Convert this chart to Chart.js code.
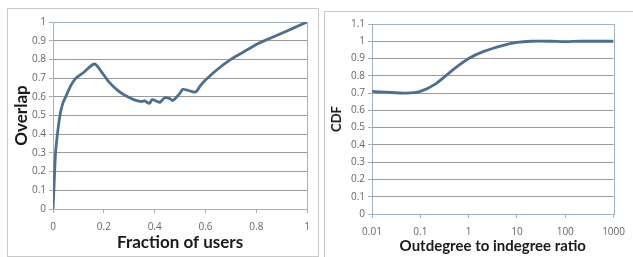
<!DOCTYPE html>
<html>
<head>
<meta charset="utf-8">
<script src="https://cdn.jsdelivr.net/npm/chart.js@4/dist/chart.umd.min.js"></script>
<style>
  body { margin: 0; background: #fff; width: 633px; height: 257px; overflow: hidden; position: relative; }
  canvas { position: absolute; top: 0; }
  .panel { position: absolute; border: 1px solid #c8c8c8; pointer-events: none; }
</style>
</head>
<body>
<canvas id="overlapChart" width="318" height="257" style="left:0"></canvas>
<canvas id="cdfChart" width="315" height="257" style="left:318px"></canvas>
<div class="panel" style="left:7px;top:8px;width:310px;height:247px"></div>
<div class="panel" style="left:324px;top:11px;width:320px;height:260px"></div>
<script>
// left chart: overlap vs fraction of users
const fractionUsers = [0, 0.005, 0.01, 0.02, 0.03, 0.04, 0.05, 0.07, 0.09, 0.1, 0.12, 0.14, 0.16, 0.17,
  0.19, 0.22, 0.25, 0.28, 0.31, 0.33, 0.35, 0.36, 0.37, 0.38, 0.39, 0.41, 0.42, 0.44, 0.46, 0.47,
  0.48, 0.5, 0.51, 0.53, 0.56, 0.58, 0.6, 0.65, 0.7, 0.75, 0.8, 0.85, 0.9, 0.95, 1];
const overlap = [0, 0.15, 0.3, 0.43, 0.52, 0.57, 0.6, 0.66, 0.7, 0.71, 0.73, 0.755, 0.775, 0.77,
  0.735, 0.68, 0.64, 0.61, 0.59, 0.58, 0.575, 0.58, 0.57, 0.565, 0.585, 0.575, 0.57, 0.595, 0.59, 0.58,
  0.59, 0.62, 0.64, 0.635, 0.625, 0.66, 0.69, 0.75, 0.8, 0.84, 0.88, 0.91, 0.94, 0.97, 1];
const overlapXTicks = [0, 0.2, 0.4, 0.6, 0.8, 1];

// right chart: CDF of outdegree/indegree ratio
const degreeRatio = [0.01, 0.02, 0.05, 0.1, 0.2, 0.5, 1, 2, 5, 10, 20, 50, 100, 200, 500, 1000];
const cdf = [0.71, 0.705, 0.7, 0.71, 0.75, 0.84, 0.9, 0.94, 0.975, 0.993, 1.0, 1.0, 0.998, 1.0, 1.0, 1.0];
const ratioXTicks = [0.01, 0.1, 1, 10, 100, 1000];

const lineColor = "#4b6f93";
const tickColor = "#666";
const gridColor = "#9a9a9a";

// outline around the plot area
const boxPlugin = {
  id: "plotBox",
  beforeDatasetsDraw(chart) {
    const a = chart.chartArea;
    const ctx = chart.ctx;
    ctx.save();
    ctx.strokeStyle = "#a3b0bd";
    ctx.lineWidth = 1;
    ctx.strokeRect(Math.round(a.left) + 0.5, Math.round(a.top) + 0.5,
      Math.round(a.right - a.left), Math.round(a.bottom - a.top));
    ctx.restore();
  },
};

function fmt(v) {
  return String(+Number(v).toFixed(2));
}

function makeChart(id, cfg) {
  return new Chart(document.getElementById(id), {
    type: "line",
    data: {
      datasets: [{
        data: cfg.xs.map((x, i) => ({ x: x, y: cfg.ys[i] })),
        borderColor: lineColor,
        borderWidth: 2.8,
        pointRadius: 0,
        fill: false,
        tension: 0.25,
      }],
    },
    options: {
      responsive: false,
      animation: false,
      devicePixelRatio: 1,
      layout: { padding: { top: cfg.top, right: cfg.right, left: 0, bottom: 0 } },
      plugins: { legend: { display: false }, tooltip: { enabled: false } },
      scales: {
        x: {
          type: cfg.xType,
          min: cfg.xTicks[0],
          max: cfg.xTicks[cfg.xTicks.length - 1],
          afterBuildTicks: (s) => { s.ticks = cfg.xTicks.map((v) => ({ value: v })); },
          afterFit: (s) => { s.height = cfg.xAxisHeight; },
          border: { display: true, color: "#a3b0bd" },
          grid: { drawOnChartArea: false, drawTicks: true, tickLength: 4, color: "#a3b0bd" },
          ticks: {
            autoSkip: false, maxRotation: 0, padding: 8, color: tickColor,
            font: { family: "Open Sans", size: 10 },
            callback: (v) => fmt(v),
          },
          title: {
            display: true, text: cfg.xTitle, color: "#1a1a1a",
            font: { family: "Lato", size: cfg.xTitleSize, weight: "bold" },
            padding: { top: 0, bottom: cfg.xTitlePad },
          },
        },
        y: {
          min: 0,
          max: cfg.yMax,
          afterBuildTicks: (s) => { s.ticks = cfg.yTicks.map((v) => ({ value: v })); },
          afterFit: (s) => { s.width = cfg.yAxisWidth; },
          border: { display: true, color: "#a3b0bd" },
          grid: {
            color: gridColor, lineWidth: 1, borderDash: [2, 2],
            tickLength: 4, tickColor: "#a3b0bd", tickBorderDash: [],
          },
          ticks: {
            padding: 3, color: tickColor,
            font: { family: "Open Sans", size: 10 },
            callback: (v) => fmt(v),
          },
          title: {
            display: true, text: cfg.yTitle, color: "#1a1a1a",
            font: { family: "Lato", size: cfg.yTitleSize, weight: "bold" },
            padding: { top: cfg.yTitlePad, bottom: 0 },
          },
        },
      },
    },
    plugins: [boxPlugin],
  });
}

const overlapYTicks = [0, 0.1, 0.2, 0.3, 0.4, 0.5, 0.6, 0.7, 0.8, 0.9, 1];
const cdfYTicks = [0, 0.1, 0.2, 0.3, 0.4, 0.5, 0.6, 0.7, 0.8, 0.9, 1, 1.1];

makeChart("overlapChart", {
  xs: fractionUsers, ys: overlap, xType: "linear", xTicks: overlapXTicks,
  yTicks: overlapYTicks, yMax: 1,
  top: 22, right: 8, xAxisHeight: 48, yAxisWidth: 53,
  xTitle: "Fraction of users", xTitleSize: 17, xTitlePad: 4,
  yTitle: "Overlap", yTitleSize: 17, yTitlePad: 11,
});

makeChart("cdfChart", {
  xs: degreeRatio, ys: cdf, xType: "logarithmic", xTicks: ratioXTicks,
  yTicks: cdfYTicks, yMax: 1.1,
  top: 24, right: 12, xAxisHeight: 43, yAxisWidth: 54,
  xTitle: "Outdegree to indegree ratio", xTitleSize: 15, xTitlePad: 2,
  yTitle: "CDF", yTitleSize: 13, yTitlePad: 11,
});
</script>
</body>
</html>
